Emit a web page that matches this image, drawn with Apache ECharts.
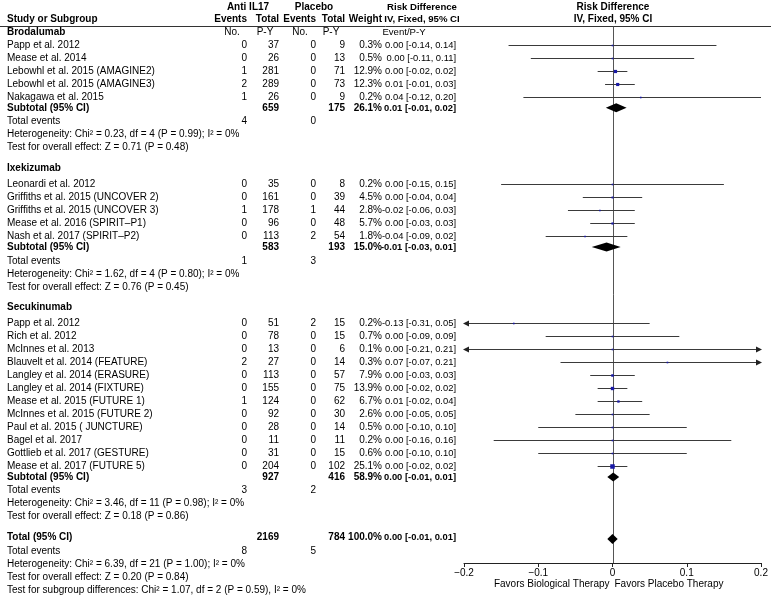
<!DOCTYPE html>
<html><head><meta charset="utf-8">
<script src="https://cdn.jsdelivr.net/npm/echarts@6/dist/echarts.min.js"></script>
<style>html,body{margin:0;padding:0;background:#fff}#c{width:771px;height:597px}</style>
</head><body><div id="c"></div>
<script>
// ---------------- DATA ----------------
const groupNames = ['Brodalumab', 'Ixekizumab', 'Secukinumab'];
const studyNames = [
  'Papp et al. 2012', 'Mease et al. 2014', 'Lebowhl et al. 2015 (AMAGINE2)', 'Lebowhl et al. 2015 (AMAGINE3)', 'Nakagawa et al. 2015',
  'Leonardi et al. 2012', 'Griffiths et al. 2015 (UNCOVER 2)', 'Griffiths et al. 2015 (UNCOVER 3)', 'Mease et al. 2016 (SPIRIT\u2013P1)', 'Nash et al. 2017 (SPIRIT\u2013P2)',
  'Papp et al. 2012', 'Rich et al. 2012', 'McInnes et al. 2013', 'Blauvelt et al. 2014 (FEATURE)', 'Langley et al. 2014 (ERASURE)', 'Langley et al. 2014 (FIXTURE)',
  'Mease et al. 2015 (FUTURE 1)', 'McInnes et al. 2015 (FUTURE 2)', 'Paul et al. 2015 ( JUNCTURE)', 'Bagel et al. 2017', 'Gottlieb et al. 2017 (GESTURE)', 'Mease et al. 2017 (FUTURE 5)'
];
const studyGroup = [0,0,0,0,0, 1,1,1,1,1, 2,2,2,2,2,2,2,2,2,2,2,2];
const antiEvents = [0,0,1,2,1, 0,0,1,0,0, 0,0,0,2,0,0,1,0,0,0,0,0];
const antiTotal  = [37,26,281,289,26, 35,161,178,96,113, 51,78,13,27,113,155,124,92,28,11,31,204];
const placEvents = [0,0,0,0,0, 0,0,1,0,2, 2,0,0,0,0,0,0,0,0,0,0,0];
const placTotal  = [9,13,71,73,9, 8,39,44,48,54, 15,15,6,14,57,75,62,30,14,11,15,102];
const weights    = [0.3,0.5,12.9,12.3,0.2, 0.2,4.5,2.8,5.7,1.8, 0.2,0.7,0.1,0.3,7.9,13.9,6.7,2.6,0.5,0.2,0.6,25.1];
const riskDiff   = [0.00,0.00,0.004,0.007,0.038, 0.00,0.00,-0.017,0.00,-0.037, -0.133,0.00,0.00,0.074,0.00,0.00,0.008,0.00,0.00,0.00,0.00,0.00];
const ciLow      = [-0.14,-0.11,-0.02,-0.01,-0.12, -0.15,-0.04,-0.06,-0.03,-0.09, -0.31,-0.09,-0.21,-0.07,-0.03,-0.02,-0.02,-0.05,-0.10,-0.16,-0.10,-0.02];
const ciHigh     = [0.14,0.11,0.02,0.03,0.20, 0.15,0.04,0.03,0.03,0.02, 0.05,0.09,0.21,0.21,0.03,0.02,0.04,0.05,0.10,0.16,0.10,0.02];

const subAntiTotal  = [659, 583, 927];
const subPlacTotal  = [175, 193, 416];
const subWeight     = ['26.1%', '15.0%', '58.9%'];
const subCiText     = ['0.01 [-0.01, 0.02]', '-0.01 [-0.03, 0.01]', '0.00 [-0.01, 0.01]'];
const subRiskDiff   = [0.005, -0.008, 0.001];
const subLow        = [-0.009, -0.028, -0.007];
const subHigh       = [0.019, 0.011, 0.009];
const subEventsAnti = [4, 1, 3];
const subEventsPlac = [0, 3, 2];
const subHet = ['Chi\u00b2 = 0.23, df = 4 (P = 0.99); I\u00b2 = 0%', 'Chi\u00b2 = 1.62, df = 4 (P = 0.80); I\u00b2 = 0%', 'Chi\u00b2 = 3.46, df = 11 (P = 0.98); I\u00b2 = 0%'];
const subZ   = ['Z = 0.71 (P = 0.48)', 'Z = 0.76 (P = 0.45)', 'Z = 0.18 (P = 0.86)'];

const totalAnti = 2169, totalPlac = 784, totalWeight = '100.0%';
const totalCiText = '0.00 [-0.01, 0.01]';
const totalRiskDiff = 0.000, totalLow = -0.007, totalHigh = 0.007;
const totalEventsAnti = 8, totalEventsPlac = 5;
const totalHet = 'Chi\u00b2 = 6.39, df = 21 (P = 1.00); I\u00b2 = 0%';
const totalZ = 'Z = 0.20 (P = 0.84)';
const subgroupTest = 'Chi\u00b2 = 1.07, df = 2 (P = 0.59), I\u00b2 = 0%';
const xTicks = [-0.2, -0.1, 0, 0.1, 0.2];

// ---------------- LAYOUT ----------------
const X_MIN = -0.2, X_MAX = 0.2;
const ROW_PX = 12.95, FIRST_PX = 45, AXIS_PX = 563;
const Y_MIN = -FIRST_PX / ROW_PX, Y_MAX = (AXIS_PX - FIRST_PX) / ROW_PX;
const FONT = '"Liberation Sans", Arial, sans-serif';
const FS = 10, FS_CI = 9.4;
const COL = {name: 7, aEv: 247, aTot: 279, pEv: 316, pTot: 345, wt: 382, ci: 456};
const minus = s => String(s).replace(/-/g, '\u2212');
const fmt = v => v.toFixed(2);

const rows = [];
const studyMarks = [];
const diamonds = [];
rows.push({slot: -2.93, cells: [
  {x: 248, t: 'Anti IL17', a: 'center', b: 1}, {x: 314, t: 'Placebo', a: 'center', b: 1},
  {x: 422, t: 'Risk Difference', a: 'center', b: 1, f: 9.6}, {x: 613, t: 'Risk Difference', a: 'center', b: 1}]});
rows.push({slot: -2.0, cells: [
  {x: COL.name, t: 'Study or Subgroup', a: 'left', b: 1},
  {x: COL.aEv, t: 'Events', a: 'right', b: 1}, {x: COL.aTot, t: 'Total', a: 'right', b: 1},
  {x: COL.pEv, t: 'Events', a: 'right', b: 1}, {x: COL.pTot, t: 'Total', a: 'right', b: 1},
  {x: COL.wt, t: 'Weight', a: 'right', b: 1}, {x: 422, t: 'IV, Fixed, 95% CI', a: 'center', b: 1, f: 9.6},
  {x: 613, t: 'IV, Fixed, 95% CI', a: 'center', b: 1}]});

let s = 0, lastTest = 0;
groupNames.forEach((g, gi) => {
  let hdr;
  if (gi === 0) { hdr = -1.0; s = 0; } else { hdr = lastTest + 1.6; s = hdr + 1.25; }
  const hcells = [{x: COL.name, t: g, a: 'left', b: 1}];
  if (gi === 0) {
    hcells.push({x: 232, t: 'No.', a: 'center'}, {x: 265, t: 'P-Y', a: 'center'},
                {x: 300, t: 'No.', a: 'center'}, {x: 331, t: 'P-Y', a: 'center'},
                {x: 404, t: 'Event/P-Y', a: 'center', f: 9.6});
  }
  rows.push({slot: hdr, cells: hcells});
  let last = s;
  studyNames.forEach((n, i) => {
    if (studyGroup[i] !== gi) return;
    rows.push({slot: s, cells: [
      {x: COL.name, t: n, a: 'left'},
      {x: COL.aEv, t: antiEvents[i], a: 'right'}, {x: COL.aTot, t: antiTotal[i], a: 'right'},
      {x: COL.pEv, t: placEvents[i], a: 'right'}, {x: COL.pTot, t: placTotal[i], a: 'right'},
      {x: COL.wt, t: weights[i].toFixed(1) + '%', a: 'right'},
      {x: COL.ci, t: fmt(riskDiff[i]) + ' [' + fmt(ciLow[i]) + ', ' + fmt(ciHigh[i]) + ']', a: 'right', f: FS_CI}]});
    studyMarks.push([riskDiff[i], s, ciLow[i], ciHigh[i], weights[i]]);
    last = s; s += 1;
  });
  const sub = last + 0.85;
  rows.push({slot: sub, cells: [
    {x: COL.name, t: 'Subtotal (95% CI)', a: 'left', b: 1},
    {x: COL.aTot, t: subAntiTotal[gi], a: 'right', b: 1}, {x: COL.pTot, t: subPlacTotal[gi], a: 'right', b: 1},
    {x: COL.wt, t: subWeight[gi], a: 'right', b: 1}, {x: COL.ci, t: subCiText[gi], a: 'right', b: 1, f: FS_CI}]});
  diamonds.push([subRiskDiff[gi], sub, subLow[gi], subHigh[gi], 4.5]);
  rows.push({slot: sub + 1.05, cells: [
    {x: COL.name, t: 'Total events', a: 'left'},
    {x: COL.aEv, t: subEventsAnti[gi], a: 'right'}, {x: COL.pEv, t: subEventsPlac[gi], a: 'right'}]});
  rows.push({slot: sub + 2.05, cells: [{x: COL.name, t: 'Heterogeneity: ' + subHet[gi], a: 'left'}]});
  rows.push({slot: sub + 3.05, cells: [{x: COL.name, t: 'Test for overall effect: ' + subZ[gi], a: 'left'}]});
  lastTest = sub + 3.05;
});
const tot = lastTest + 1.6;
rows.push({slot: tot, cells: [
  {x: COL.name, t: 'Total (95% CI)', a: 'left', b: 1},
  {x: COL.aTot, t: totalAnti, a: 'right', b: 1}, {x: COL.pTot, t: totalPlac, a: 'right', b: 1},
  {x: COL.wt, t: totalWeight, a: 'right', b: 1}, {x: COL.ci, t: totalCiText, a: 'right', b: 1, f: FS_CI}]});
diamonds.push([totalRiskDiff, tot + 0.15, totalLow, totalHigh, 5]);
rows.push({slot: tot + 1.05, cells: [
  {x: COL.name, t: 'Total events', a: 'left'},
  {x: COL.aEv, t: totalEventsAnti, a: 'right'}, {x: COL.pEv, t: totalEventsPlac, a: 'right'}]});
rows.push({slot: tot + 2.05, cells: [{x: COL.name, t: 'Heterogeneity: ' + totalHet, a: 'left'}]});
rows.push({slot: tot + 3.05, cells: [{x: COL.name, t: 'Test for overall effect: ' + totalZ, a: 'left'}]});
rows.push({slot: tot + 4.05, cells: [{x: COL.name, t: 'Test for subgroup differences: ' + subgroupTest, a: 'left'}]});

function textEl(x, y, t, align, bold, fs) {
  return {type: 'text', x: x, y: y, silent: true,
    style: {text: String(t), fill: '#000', fontSize: fs || FS, fontFamily: FONT, fontWeight: bold ? 'bold' : 'normal',
            align: align, verticalAlign: 'middle'}};
}

const chart = echarts.init(document.getElementById('c'), null, {renderer: 'canvas'});
chart.setOption({
  animation: false,
  backgroundColor: '#fff',
  grid: {left: 464, right: 10, top: 0, bottom: 597 - AXIS_PX, containLabel: false},
  xAxis: {type: 'value', min: X_MIN, max: X_MAX, interval: 0.1, splitLine: {show: false},
    axisLine: {show: true, onZero: false, lineStyle: {color: '#222', width: 1}},
    axisTick: {show: true, length: 4, inside: false, lineStyle: {color: '#222'}},
    axisLabel: {margin: 5, fontSize: FS, fontFamily: FONT, color: '#000',
      formatter: v => minus(xTicks.find(t => Math.abs(t - v) < 1e-9) ?? v)}},
  yAxis: {type: 'value', inverse: true, min: Y_MIN, max: Y_MAX, show: false},
  series: [
    {
      type: 'custom', silent: true, clip: false, z: 1,
      data: [[0, -1.47]],
      encode: {x: 0, y: 1},
      renderItem: (p, api) => {
        const top = api.coord([0, api.value(1)]);
        const bot = api.coord([0, Y_MAX]);
        const x = Math.round(top[0]) + 0.5, yt = Math.round(top[1]) + 0.5;
        return {type: 'group', children: [
          {type: 'line', shape: {x1: 0, y1: yt, x2: 771, y2: yt}, style: {stroke: '#333', lineWidth: 1}},
          {type: 'line', shape: {x1: x, y1: yt, x2: x, y2: bot[1]}, style: {stroke: '#555', lineWidth: 1}},
          textEl(x - 4, bot[1] + 21, 'Favors Biological Therapy', 'right'),
          textEl(x + 1, bot[1] + 21, 'Favors Placebo Therapy', 'left')
        ]};
      }
    },
    {
      type: 'custom', silent: true, clip: false, z: 3,
      data: studyMarks, encode: {x: 0, y: 1},
      renderItem: (p, api) => {
        const est = api.value(0), sl = api.value(1), lo = api.value(2), hi = api.value(3), w = api.value(4);
        const a = api.coord([Math.max(lo, X_MIN), sl]), b = api.coord([Math.min(hi, X_MAX), sl]), c = api.coord([est, sl]);
        const y = Math.round(a[1]) + 0.5;
        const ch = [{type: 'line', shape: {x1: a[0], y1: y, x2: b[0], y2: y}, style: {stroke: '#3a3a3a', lineWidth: 1}}];
        if (lo < X_MIN) ch.push({type: 'polygon', shape: {points: [[a[0] - 1, y], [a[0] + 5, y - 3], [a[0] + 5, y + 3]]}, style: {fill: '#222'}});
        if (hi > X_MAX) ch.push({type: 'polygon', shape: {points: [[b[0] + 1, y], [b[0] - 5, y - 3], [b[0] - 5, y + 3]]}, style: {fill: '#222'}});
        const sz = Math.max(1.6, 0.9 * Math.sqrt(w));
        ch.push({type: 'rect', shape: {x: c[0] - sz / 2, y: y - sz / 2, width: sz, height: sz}, style: {fill: '#1a1aa6'}});
        return {type: 'group', children: ch};
      }
    },
    {
      type: 'custom', silent: true, clip: false, z: 4,
      data: diamonds, encode: {x: 0, y: 1},
      renderItem: (p, api) => {
        const est = api.value(0), sl = api.value(1), h = api.value(4);
        const l = api.coord([api.value(2), sl]), r = api.coord([api.value(3), sl]), c = api.coord([est, sl]);
        return {type: 'polygon', shape: {points: [[l[0], c[1]], [c[0], c[1] - h], [r[0], c[1]], [c[0], c[1] + h]]},
          style: {fill: '#000'}};
      }
    },
    {
      type: 'custom', silent: true, clip: false, z: 5,
      data: rows.map((r, i) => [0, r.slot, i]), encode: {x: 0, y: 1},
      renderItem: (p, api) => {
        const r = rows[api.value(2)];
        const y = Math.round(api.coord([0, api.value(1)])[1]);
        return {type: 'group', children: r.cells.map(c => textEl(c.x, y, c.t, c.a, c.b, c.f))};
      }
    }
  ]
});
</script></body></html>
